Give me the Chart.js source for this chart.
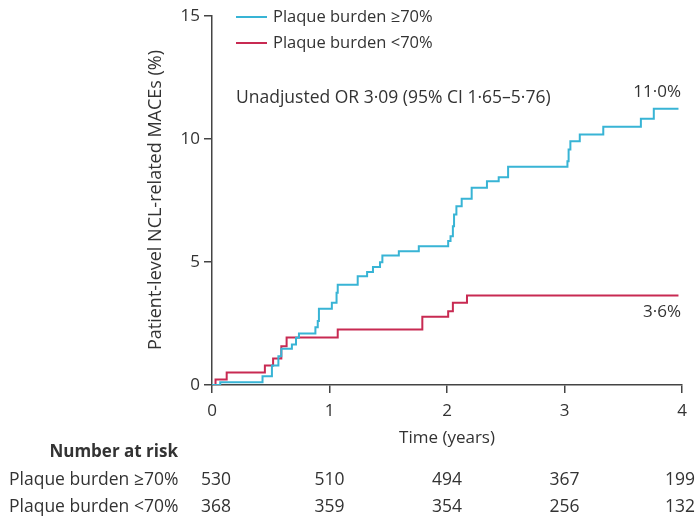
<!DOCTYPE html>
<html>
<head>
<meta charset="utf-8">
<script src="https://cdn.jsdelivr.net/npm/chart.js@4.4.0/dist/chart.umd.min.js"></script>
<style>
    html, body { margin: 0; padding: 0; background: #fff; }
    #wrap { width: 699px; height: 519px; }
</style>
</head>
<body>
<div id="wrap"><canvas id="kmChart" width="699" height="519"></canvas></div>
<script>
// Ma'lumotlar (rasmdan o'qilgan)
const seriesLabels = ['Plaque burden ≥70%', 'Plaque burden <70%'];
const yearTicks = [0, 1, 2, 3, 4];
const yTicks = [0, 5, 10, 15];

const highTimes = [0, 0.07, 0.43, 0.51, 0.565, 0.59, 0.68, 0.715, 0.74, 0.88, 0.9, 0.91, 1.02, 1.06, 1.07,
    1.24, 1.32, 1.37, 1.43, 1.45, 1.59, 1.76, 2.01, 2.03, 2.05, 2.06, 2.08, 2.125, 2.21, 2.34, 2.44, 2.52,
    3.025, 3.035, 3.05, 3.13, 3.33, 3.65, 3.76, 3.97];
const highValues = [0, 0.11, 0.36, 0.79, 1.17, 1.47, 1.65, 1.92, 2.09, 2.35, 2.6, 3.1, 3.34, 3.75, 4.08,
    4.42, 4.59, 4.8, 4.99, 5.26, 5.44, 5.64, 5.85, 6.05, 6.45, 6.93, 7.27, 7.57, 8.02, 8.28, 8.45, 8.87,
    9.1, 9.57, 9.91, 10.18, 10.5, 10.82, 11.23, 11.23];

const lowTimes = [0, 0.03, 0.125, 0.45, 0.52, 0.59, 0.635, 1.07, 1.79, 2.01, 2.05, 2.17, 3.97];
const lowValues = [0, 0.22, 0.51, 0.79, 1.08, 1.58, 1.93, 2.26, 2.77, 3.0, 3.34, 3.64, 3.64];

const riskHigh = [530, 510, 494, 367, 199];
const riskLow = [368, 359, 354, 256, 132];

const endLabels = ['11·0%', '3·6%'];
const orText = 'Unadjusted OR 3·09 (95% CI 1·65–5·76)';
const yTitle = 'Patient-level NCL-related MACEs (%)';
const xTitle = 'Time (years)';

const colors = ['#38b4d5', '#c82a52'];
const textColor = '#333';
const FONT = '"Open Sans", sans-serif';

function toPoints(ts, vs) {
    return ts.map((t, i) => ({ x: t, y: vs[i] }));
}

// Matnlar, legend va "Number at risk" jadvalini chizish
const extras = {
    id: 'extras',
    afterDraw(chart) {
        const ctx = chart.ctx;
        const xs = chart.scales.x;
        ctx.save();
        ctx.fillStyle = textColor;
        ctx.textBaseline = 'middle';

        // legend
        ctx.font = '16.5px ' + FONT;
        seriesLabels.forEach((lab, i) => {
            const y = 17 + i * 26;
            ctx.strokeStyle = colors[i];
            ctx.lineWidth = 2;
            ctx.beginPath();
            ctx.moveTo(236, y);
            ctx.lineTo(267, y);
            ctx.stroke();
            ctx.textAlign = 'left';
            ctx.fillText(lab, 273, y);
        });

        ctx.font = '17.5px ' + FONT;
        ctx.textAlign = 'left';
        ctx.fillText(orText, 236, 98);

        // oxirgi qiymatlar
        ctx.font = '17px ' + FONT;
        ctx.textAlign = 'right';
        ctx.fillText(endLabels[0], 681, 92);
        ctx.fillText(endLabels[1], 681, 312);

        // o'q sarlavhalari
        ctx.textAlign = 'center';
        ctx.fillText(xTitle, xs.getPixelForValue(2), 438);
        ctx.save();
        ctx.translate(156, 200);
        ctx.rotate(-Math.PI / 2);
        ctx.font = '18px ' + FONT;
        ctx.fillText(yTitle, 0, 0);
        ctx.restore();

        // Number at risk
        ctx.textAlign = 'right';
        ctx.font = 'bold 17px ' + FONT;
        ctx.fillText('Number at risk', 178, 452);
        ctx.font = '17.5px ' + FONT;
        ctx.textAlign = 'left';
        ctx.fillText(seriesLabels[0], 9, 480);
        ctx.fillText(seriesLabels[1], 9, 507);
        ctx.textAlign = 'center';
        yearTicks.forEach((yr, i) => {
            let px = xs.getPixelForValue(yr);
            if (i === 0) px += 4;
            if (i === yearTicks.length - 1) px -= 2;
            ctx.fillText(String(riskHigh[i]), px, 480);
            ctx.fillText(String(riskLow[i]), px, 507);
        });
        ctx.restore();
    }
};

const ctx = document.getElementById('kmChart').getContext('2d');
new Chart(ctx, {
    type: 'line',
    data: {
        datasets: [
            {
                label: seriesLabels[0],
                data: toPoints(highTimes, highValues),
                borderColor: colors[0],
                borderWidth: 2,
                stepped: true,
                pointRadius: 0,
                fill: false
            },
            {
                label: seriesLabels[1],
                data: toPoints(lowTimes, lowValues),
                borderColor: colors[1],
                borderWidth: 2,
                stepped: true,
                pointRadius: 0,
                fill: false
            }
        ]
    },
    options: {
        responsive: false,
        animation: false,
        layout: { padding: { left: 0, right: 17, top: 16, bottom: 0 } },
        plugins: {
            legend: { display: false },
            tooltip: { enabled: false }
        },
        scales: {
            x: {
                type: 'linear',
                min: 0,
                max: 4,
                afterFit(scale) { scale.height = 134; },
                afterBuildTicks(scale) { scale.ticks = yearTicks.map(v => ({ value: v })); },
                grid: { drawOnChartArea: false, drawTicks: true, tickLength: 8, color: '#444', lineWidth: 1.5 },
                border: { color: '#444', width: 1.5 },
                ticks: { color: textColor, font: { family: FONT, size: 17 }, padding: 8, maxRotation: 0 }
            },
            y: {
                min: 0,
                max: 15,
                afterFit(scale) { scale.width = 212; },
                afterBuildTicks(scale) { scale.ticks = yTicks.map(v => ({ value: v })); },
                grid: { drawOnChartArea: false, drawTicks: true, tickLength: 8, color: '#444', lineWidth: 1.5 },
                border: { color: '#444', width: 1.5 },
                ticks: { color: textColor, font: { family: FONT, size: 17 }, padding: 4 }
            }
        }
    },
    plugins: [extras]
});
</script>
</body>
</html>
